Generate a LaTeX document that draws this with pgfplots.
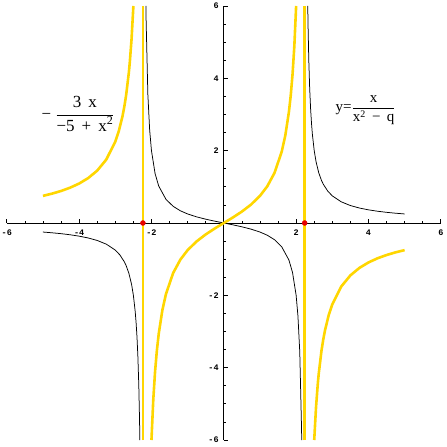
\documentclass[border=0pt]{standalone}
\usepackage{pgfplots}
\pgfplotsset{compat=1.18}
\usepackage{fontspec}
\setmainfont{Liberation Serif}
\newfontfamily\tickfont{Liberation Mono}
\definecolor{curvey}{RGB}{255,214,0}
\definecolor{dotred}{RGB}{230,0,0}

% y = x/(x^2-5), three branches
\pgfplotstableread{
x y
-5 -0.25
-4.75 -0.27046
-4.5 -0.29508
-4.25 -0.32536
-4 -0.36364
-3.75 -0.41379
-3.5 -0.48276
-3.25 -0.58427
-3 -0.75
-2.875 -0.88038
-2.75 -1.07317
-2.7 -1.17904
-2.625 -1.38843
-2.55 -1.69717
-2.5 -2.0
-2.45 -2.44389
-2.425 -2.75373
-2.4 -3.15789
-2.375 -3.70732
-2.35 -4.49761
-2.33 -5.43250
-2.32095 -6.0
}\blackleft
\pgfplotstableread{
x y
-2.15428 6.0
-2.15 5.69536
-2.1 3.55932
-2.05 2.57053
-2.0 2.0
-1.9 1.36691
-1.8 1.02273
-1.6 0.65574
-1.4 0.46053
-1.2 0.33708
-1.0 0.25
-0.75 0.16901
-0.5 0.10526
-0.25 0.05063
0 0
0.25 -0.05063
0.5 -0.10526
0.75 -0.16901
1.0 -0.25
1.2 -0.33708
1.4 -0.46053
1.6 -0.65574
1.8 -1.02273
1.9 -1.36691
2.0 -2.0
2.05 -2.57053
2.1 -3.55932
2.15 -5.69536
2.15428 -6.0
}\blackmid
\pgfplotstableread{
x y
2.32095 6.0
2.33 5.43250
2.35 4.49761
2.375 3.70732
2.4 3.15789
2.425 2.75373
2.45 2.44389
2.5 2.0
2.55 1.69717
2.625 1.38843
2.7 1.17904
2.75 1.07317
2.875 0.88038
3 0.75
3.25 0.58427
3.5 0.48276
3.75 0.41379
4 0.36364
4.25 0.32536
4.5 0.29508
4.75 0.27046
5 0.25
}\blackright

% -3x/(-5+x^2), three branches
\pgfplotstableread{
x y
-5 0.75
-4.75 0.81138
-4.5 0.88525
-4.25 0.97607
-4 1.09091
-3.75 1.24138
-3.5 1.44828
-3.25 1.75281
-3 2.25
-2.9 2.55132
-2.8 2.95775
-2.75 3.21951
-2.7 3.53712
-2.625 4.16529
-2.6 4.43182
-2.55 5.0915
-2.5 6.0
}\yelleft
\pgfplotstableread{
x y
-2.0 -6.0
-1.95 -4.88518
-1.9 -4.10073
-1.85 -3.51823
-1.8 -3.06818
-1.7 -2.41706
-1.6 -1.96721
-1.4 -1.38158
-1.2 -1.01124
-1.0 -0.75
-0.75 -0.50704
-0.5 -0.31579
-0.25 -0.15190
0 0
0.25 0.15190
0.5 0.31579
0.75 0.50704
1.0 0.75
1.2 1.01124
1.4 1.38158
1.6 1.96721
1.7 2.41706
1.8 3.06818
1.85 3.51823
1.9 4.10073
1.95 4.88518
2.0 6.0
}\yelmid
\pgfplotstableread{
x y
2.5 -6.0
2.55 -5.0915
2.6 -4.43182
2.625 -4.16529
2.7 -3.53712
2.75 -3.21951
2.8 -2.95775
2.9 -2.55132
3 -2.25
3.25 -1.75281
3.5 -1.44828
3.75 -1.24138
4 -1.09091
4.25 -0.97607
4.5 -0.88525
4.75 -0.81138
5 -0.75
}\yelright

\begin{document}
\begin{tikzpicture}
\begin{axis}[
  name=ax,
  scale only axis,
  width=434.4pt, height=434.4pt,
  xmin=-6, xmax=6, ymin=-6, ymax=6,
  axis lines=middle,
  axis line style={-, line width=0.8pt, black},
  tick align=inside,
  major tick length=4pt,
  minor tick length=2.5pt,
  tick style={line width=0.7pt, black},
  xtick={-6,-4,-2,2,4,6},
  xticklabels={-6,-4,-2,2,4,6},
  ytick={-6,-4,-2,2,4,6},
  yticklabels={-6,-4,-2,2,4,6},
  minor xtick={-5.5,-5,-4.5,-3.5,-3,-2.5,-1.5,-1,-0.5,0.5,1,1.5,2.5,3,3.5,4.5,5,5.5},
  minor ytick={-5.5,-5,-4.5,-3.5,-3,-2.5,-1.5,-1,-0.5,0.5,1,1.5,2.5,3,3.5,4.5,5,5.5},
  ticklabel style={font=\tickfont\bfseries\fontsize{8.5}{9}\selectfont, inner sep=1pt},
  xticklabel style={yshift=-6pt},
  yticklabel style={xshift=-4pt},
  clip=true,
]
\addplot[black, line width=0.75pt] table {\blackleft};
\addplot[black, line width=0.75pt] table {\blackmid};
\addplot[black, line width=0.75pt] table {\blackright};
\addplot[curvey, line width=2.6pt] table {\yelleft};
\addplot[curvey, line width=2.6pt] table {\yelmid};
\addplot[curvey, line width=2.6pt] table {\yelright};
\addplot[curvey, line width=2.6pt] coordinates {(-2.23607,-6) (-2.23607,6)};
\addplot[curvey, line width=2.6pt] coordinates {(2.23607,-6) (2.23607,6)};
\addplot[only marks, mark=*, mark size=2.5pt, color=dotred] coordinates {(-2.23607,0) (2.23607,0)};
\node at (axis cs:-4.03,3.02) {\fontsize{17}{19}\selectfont $\mbox{−\ }\displaystyle\frac{\mbox{3\ \,x}}{\mbox{−5\ \,+\ \,x}^{\mbox{\fontsize{12}{13}\selectfont 2}}}$};
\node at (axis cs:3.92,3.12) {\fontsize{15}{17}\selectfont $\mbox{y=}\displaystyle\frac{\mbox{x}}{\mbox{x}^{\mbox{\fontsize{10}{11}\selectfont 2}}\mbox{\ \,−\ \,q}}$};
\end{axis}
\pgfresetboundingbox
\path ([shift={(-6.8pt,-7pt)}]ax.south west) rectangle ([shift={(5.8pt,6pt)}]ax.north east);
\end{tikzpicture}
\end{document}
